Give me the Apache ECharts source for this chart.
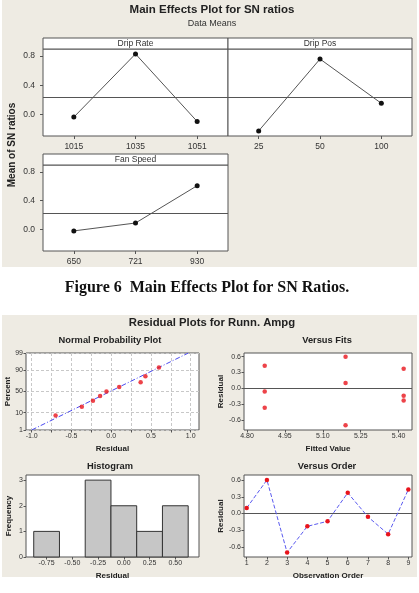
<!DOCTYPE html>
<html>
<head>
<meta charset="utf-8">
<script src="https://cdn.jsdelivr.net/npm/echarts@6/dist/echarts.min.js"></script>
<style>
html, body { margin: 0; padding: 0; background: #fff; }
#main { width: 419px; height: 593px; }
</style>
</head>
<body>
<div id="main"></div>
<script>
// Figure 6 - main effects (means of SN ratios)
var dripRateLevels = ['1015', '1035', '1051'];
var dripRateMeans = [-0.04, 0.83, -0.10];
var dripPosLevels = ['25', '50', '100'];
var dripPosMeans = [-0.23, 0.76, 0.15];
var fanSpeedLevels = ['650', '721', '930'];
var fanSpeedMeans = [-0.02, 0.09, 0.61];
var snTicks = [0.0, 0.4, 0.8];

// residual plots
var obsOrder = [1, 2, 3, 4, 5, 6, 7, 8, 9];
var residuals = [0.10, 0.60, -0.70, -0.23, -0.14, 0.37, -0.06, -0.37, 0.43];
var fittedValues = [5.19, 5.19, 5.19, 5.42, 5.42, 5.42, 4.87, 4.87, 4.87];
var probPercent = [7.4, 18, 28.7, 39.4, 50, 60.6, 71.3, 82, 92.6];
var fitLineResid = [-1.0, 0.97];
var fitLinePercent = [1, 99];
var percentTicks = [1, 10, 50, 90, 99];
var normResidTicks = [-1.0, -0.5, 0.0, 0.5, 1.0];
var normGridTicks = [-1.0, -0.75, -0.5, -0.25, 0.0, 0.25, 0.5, 0.75, 1.0];
var histBinCenters = [-0.75, -0.50, -0.25, 0.00, 0.25, 0.50];
var histCounts = [1, 0, 3, 2, 1, 2];
var histBinWidth = 0.25;
var fitTicks = [4.80, 4.95, 5.10, 5.25, 5.40];
var residTicks = [-0.6, -0.3, 0.0, 0.3, 0.6];

// inverse normal cdf (Acklam), used for the probability axis
function probit(p) {
    var a = [-3.969683028665376e+01, 2.209460984245205e+02, -2.759285104469687e+02, 1.383577518672690e+02, -3.066479806614716e+01, 2.506628277459239e+00];
    var b = [-5.447609879822406e+01, 1.615858368580409e+02, -1.556989798598866e+02, 6.680131188771972e+01, -1.328068155288572e+01];
    var c = [-7.784894002430293e-03, -3.223964580411365e-01, -2.400758277161838e+00, -2.549732539343734e+00, 4.374664141464968e+00, 2.938163982698783e+00];
    var d = [7.784695709041462e-03, 3.224671290700398e-01, 2.445134137142996e+00, 3.754408661907416e+00];
    var pl = 0.02425, q, r;
    if (p < pl) {
        q = Math.sqrt(-2 * Math.log(p));
        return (((((c[0] * q + c[1]) * q + c[2]) * q + c[3]) * q + c[4]) * q + c[5]) / ((((d[0] * q + d[1]) * q + d[2]) * q + d[3]) * q + 1);
    }
    if (p > 1 - pl) {
        q = Math.sqrt(-2 * Math.log(1 - p));
        return -(((((c[0] * q + c[1]) * q + c[2]) * q + c[3]) * q + c[4]) * q + c[5]) / ((((d[0] * q + d[1]) * q + d[2]) * q + d[3]) * q + 1);
    }
    q = p - 0.5;
    r = q * q;
    return (((((a[0] * r + a[1]) * r + a[2]) * r + a[3]) * r + a[4]) * r + a[5]) * q / (((((b[0] * r + b[1]) * r + b[2]) * r + b[3]) * r + b[4]) * r + 1);
}

var allMeans = dripRateMeans.concat(dripPosMeans, fanSpeedMeans);
var grandMean = allMeans.reduce(function (s, v) { return s + v; }, 0) / allMeans.length;

var sortedResid = residuals.slice().sort(function (x, y) { return x - y; });
var percentZ = percentTicks.map(function (p) { return probit(p / 100); });

var FONT = 'Liberation Sans';
var BORDER = '#555';
var PANEL = '#eeebe3';

function gridBox(left, top, width, height) {
    return {
        left: left, top: top, width: width, height: height,
        show: true, backgroundColor: '#fff', borderColor: BORDER, borderWidth: 1,
        outerBoundsMode: 'none', containLabel: false
    };
}

function topX(gridIndex, levels) {
    return {
        type: 'category', gridIndex: gridIndex, data: levels, boundaryGap: true,
        axisLine: { show: false, onZero: false },
        axisTick: { show: true, alignWithLabel: true, inside: false, length: 3, lineStyle: { color: BORDER } },
        axisLabel: { fontSize: 8.5, color: '#333', margin: 6, fontFamily: FONT },
        splitLine: { show: false }
    };
}

function topY(gridIndex, showLabels) {
    return {
        type: 'value', gridIndex: gridIndex, min: -0.30, max: 0.898,
        axisLine: { show: false, onZero: false },
        axisTick: { show: showLabels, inside: false, length: 3, customValues: snTicks, lineStyle: { color: BORDER } },
        axisLabel: {
            show: showLabels, fontSize: 8.5, color: '#333', margin: 8, fontFamily: FONT,
            customValues: snTicks,
            formatter: function (v) { return v.toFixed(1); }
        },
        splitLine: { show: false }
    };
}

function smallAxis(opts) {
    var ax = {
        type: 'value', gridIndex: opts.grid, min: opts.min, max: opts.max,
        axisLine: { show: false, onZero: false },
        axisTick: { show: true, inside: false, length: 2.5, customValues: opts.tickValues || opts.labels, lineStyle: { color: BORDER } },
        axisLabel: {
            fontSize: 7, color: '#333', margin: opts.margin || 3, fontFamily: FONT,
            customValues: opts.labels,
            formatter: opts.formatter
        },
        splitLine: opts.split ? { show: true, lineStyle: { color: '#c8c8c8', type: [3, 2], width: 1 } } : { show: false },
        name: opts.name, nameLocation: 'middle', nameGap: opts.nameGap,
        nameTextStyle: { fontSize: 8, fontWeight: 'bold', color: '#222', fontFamily: FONT }
    };
    if (opts.rotateName) ax.nameRotate = 90;
    return ax;
}

function meanLine(val) {
    return {
        silent: true, symbol: 'none', label: { show: false },
        lineStyle: { color: '#555', type: 'solid', width: 1 },
        emphasis: { disabled: true },
        data: [{ yAxis: val }]
    };
}

var topLine = function (xi, data) {
    return {
        type: 'line', xAxisIndex: xi, yAxisIndex: xi, data: data,
        symbol: 'circle', symbolSize: 5,
        itemStyle: { color: '#111' },
        lineStyle: { color: '#555', width: 1 },
        markLine: meanLine(grandMean),
        z: 5
    };
};

var redDot = { color: '#e8141c' };

function label(x, y, text, font, fill) {
    return { type: 'text', z: 100, x: x, y: y, style: { text: text, font: font, fill: fill || '#222', textAlign: 'center', textVerticalAlign: 'middle' } };
}

var option = {
    animation: false,
    backgroundColor: PANEL,
    graphic: [
        // white page around the two panels
        { type: 'rect', shape: { x: 0, y: 267, width: 419, height: 48 }, style: { fill: '#fff' } },
        { type: 'rect', shape: { x: 0, y: 577, width: 419, height: 16 }, style: { fill: '#fff' } },
        { type: 'rect', shape: { x: 0, y: 0, width: 2, height: 593 }, style: { fill: '#fff' } },
        { type: 'rect', shape: { x: 417, y: 0, width: 2, height: 593 }, style: { fill: '#fff' } },
        // top titles
        label(212, 10, 'Main Effects Plot for SN ratios', 'bold 11.5px "Liberation Sans"'),
        label(212, 24, 'Data Means', '9px "Liberation Sans"', '#333'),
        // panel headers
        { type: 'rect', z: 50, shape: { x: 43, y: 38, width: 185, height: 11 }, style: { fill: '#fff', stroke: BORDER, lineWidth: 1 } },
        { type: 'rect', z: 50, shape: { x: 228, y: 38, width: 184, height: 11 }, style: { fill: '#fff', stroke: BORDER, lineWidth: 1 } },
        { type: 'rect', z: 50, shape: { x: 43, y: 154, width: 185, height: 11 }, style: { fill: '#fff', stroke: BORDER, lineWidth: 1 } },
        label(135.5, 43.5, 'Drip Rate', '8.5px "Liberation Sans"', '#333'),
        label(320, 43.5, 'Drip Pos', '8.5px "Liberation Sans"', '#333'),
        label(135.5, 159.5, 'Fan Speed', '8.5px "Liberation Sans"', '#333'),
        { type: 'text', z: 100, x: 12, y: 145, rotation: Math.PI / 2, style: { text: 'Mean of SN ratios', font: 'bold 10px "Liberation Sans"', fill: '#222', textAlign: 'center', textVerticalAlign: 'middle' } },
        // caption
        label(207, 288, 'Figure 6  Main Effects Plot for SN Ratios.', 'bold 16px "Liberation Serif"', '#111'),
        // residual plot titles
        label(212, 323, 'Residual Plots for Runn. Ampg', 'bold 11.3px "Liberation Sans"'),
        label(110, 340, 'Normal Probability Plot', 'bold 9.3px "Liberation Sans"'),
        label(327, 340, 'Versus Fits', 'bold 9.3px "Liberation Sans"'),
        label(110, 466, 'Histogram', 'bold 9.3px "Liberation Sans"'),
        label(327, 466, 'Versus Order', 'bold 9.3px "Liberation Sans"')
    ],
    grid: [
        gridBox(43, 49, 185, 87),
        gridBox(228, 49, 184, 87),
        gridBox(43, 165, 185, 86),
        gridBox(26, 353, 173, 77),
        gridBox(244, 353, 168, 77),
        gridBox(26, 475, 173, 82),
        gridBox(244, 475, 168, 82)
    ],
    xAxis: [
        topX(0, dripRateLevels),
        topX(1, dripPosLevels),
        topX(2, fanSpeedLevels),
        smallAxis({ grid: 3, min: -1.072, max: 1.104, labels: normResidTicks, tickValues: normGridTicks, split: true,
            formatter: function (v) { return v.toFixed(1); }, name: 'Residual', nameGap: 15 }),
        smallAxis({ grid: 4, min: 4.788, max: 5.453, labels: fitTicks,
            formatter: function (v) { return v.toFixed(2); }, name: 'Fitted Value', nameGap: 15 }),
        smallAxis({ grid: 5, min: -0.95, max: 0.73, labels: histBinCenters,
            formatter: function (v) { return v.toFixed(2); }, name: 'Residual', nameGap: 15 }),
        smallAxis({ grid: 6, min: 0.866, max: 9.18, labels: obsOrder,
            formatter: function (v) { return String(Math.round(v)); }, name: 'Observation Order', nameGap: 15 })
    ],
    yAxis: [
        topY(0, true),
        topY(1, false),
        topY(2, true),
        smallAxis({ grid: 3, min: probit(0.01), max: probit(0.99), labels: percentZ, split: true,
            formatter: function (v) {
                for (var i = 0; i < percentZ.length; i++) {
                    if (Math.abs(percentZ[i] - v) < 1e-6) return String(percentTicks[i]);
                }
                return '';
            }, name: 'Percent', nameGap: 12, rotateName: true }),
        smallAxis({ grid: 4, min: -0.79, max: 0.67, labels: residTicks,
            formatter: function (v) { return v.toFixed(1); }, name: 'Residual', nameGap: 18, rotateName: true }),
        smallAxis({ grid: 5, min: 0, max: 3.2, labels: [0, 1, 2, 3],
            formatter: function (v) { return String(Math.round(v)); }, name: 'Frequency', nameGap: 13, rotateName: true }),
        smallAxis({ grid: 6, min: -0.78, max: 0.69, labels: residTicks,
            formatter: function (v) { return v.toFixed(1); }, name: 'Residual', nameGap: 18, rotateName: true })
    ],
    series: [
        topLine(0, dripRateMeans),
        topLine(1, dripPosMeans),
        topLine(2, fanSpeedMeans),
        {
            type: 'line', xAxisIndex: 3, yAxisIndex: 3, symbol: 'none',
            data: fitLineResid.map(function (r, i) { return [r, probit(fitLinePercent[i] / 100)]; }),
            lineStyle: { color: '#4a4af0', width: 1, type: [5, 2, 1, 2] }, z: 3
        },
        {
            type: 'scatter', xAxisIndex: 3, yAxisIndex: 3, symbolSize: 4.5,
            data: sortedResid.map(function (r, i) { return [r, probit(probPercent[i] / 100)]; }),
            itemStyle: redDot, z: 5
        },
        {
            type: 'scatter', xAxisIndex: 4, yAxisIndex: 4, symbolSize: 4.5,
            data: residuals.map(function (r, i) { return [fittedValues[i], r]; }),
            itemStyle: redDot, markLine: meanLine(0), z: 5
        },
        {
            type: 'custom', xAxisIndex: 5, yAxisIndex: 5,
            data: histBinCenters.map(function (c, i) { return [c, histCounts[i]]; }),
            renderItem: function (params, api) {
                var c = api.value(0), n = api.value(1);
                if (!n) return null;
                var p0 = api.coord([c - histBinWidth / 2, n]);
                var p1 = api.coord([c + histBinWidth / 2, 0]);
                return {
                    type: 'rect',
                    shape: { x: p0[0], y: p0[1], width: p1[0] - p0[0], height: p1[1] - p0[1] },
                    style: { fill: '#c6c6c6', stroke: '#333', lineWidth: 1 }
                };
            },
            z: 3
        },
        {
            type: 'line', xAxisIndex: 6, yAxisIndex: 6,
            data: residuals.map(function (r, i) { return [obsOrder[i], r]; }),
            symbol: 'circle', symbolSize: 4.5, itemStyle: redDot,
            lineStyle: { color: '#5a5af0', width: 1, type: [4, 2] },
            markLine: meanLine(0), z: 5
        }
    ]
};

var myChart = echarts.init(document.getElementById('main'), null, { renderer: 'canvas' });
myChart.setOption(option);
</script>
</body>
</html>
